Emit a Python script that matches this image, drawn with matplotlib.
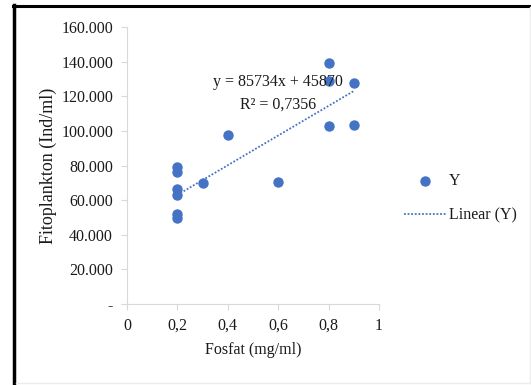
import numpy as np
import matplotlib.pyplot as plt
from matplotlib.lines import Line2D
from matplotlib.ticker import FuncFormatter

# data
fosfat = [0.2, 0.2, 0.2, 0.2, 0.2, 0.2, 0.3, 0.4, 0.6, 0.8, 0.8, 0.8, 0.9, 0.9]
fitoplankton = [79200, 76300, 66700, 62900, 51700, 49400, 70000, 97900,
                70400, 139200, 128700, 102900, 127700, 103300]
slope = 85734
intercept = 45870
r2_text = "0,7356"
xticks = [0, 0.2, 0.4, 0.6, 0.8, 1]
yticks = [0, 20000, 40000, 60000, 80000, 100000, 120000, 140000, 160000]

blue = "#4472C4"
axis_grey = "#d9d9d9"
text_col = "#1a1a1a"
plt.rcParams["font.family"] = ["Liberation Serif", "DejaVu Serif"]

fig = plt.figure(figsize=(5.31, 3.85), dpi=100)
W, H = 531, 385
ax = fig.add_axes([127 / W, 1 - 304 / H, (379 - 127) / W, (304 - 27) / H])

ax.scatter(fosfat, fitoplankton, s=42, color=blue, zorder=3, label="Y")
xl = np.array([min(fosfat), max(fosfat)])
ax.plot(xl, slope * xl + intercept, color=blue, ls=(0, (1, 1)), lw=1.3,
        label="Linear (Y)")

ax.set_xlim(0, 1)
ax.set_ylim(0, 160000)
ax.set_xticks(xticks)
ax.set_yticks(yticks)
ax.xaxis.set_major_formatter(FuncFormatter(
    lambda v, p: "0" if v == 0 else ("1" if v == 1 else f"{v:.1f}".replace(".", ","))))
ax.yaxis.set_major_formatter(FuncFormatter(
    lambda v, p: "-" if v == 0 else f"{int(v):,}".replace(",", ".")))
ax.tick_params(labelsize=11.5, colors=axis_grey, labelcolor=text_col,
               length=4, width=0.8, pad=6)
for s in ["top", "right"]:
    ax.spines[s].set_visible(False)
for s in ["left", "bottom"]:
    ax.spines[s].set_color(axis_grey)
ax.set_xlabel("Fosfat (mg/ml)", fontsize=11.5, color=text_col, labelpad=6)
ax.set_ylabel("Fitoplankton (Ind/ml)", fontsize=13, color=text_col, labelpad=3)

ax.text(0.60, 128500, f"y = {slope}x + {intercept}", fontsize=11.5,
        ha="center", va="center", color=text_col)
ax.text(0.60, 115000, f"R\u00b2 = {r2_text}", fontsize=11.5,
        ha="center", va="center", color=text_col)

leg = fig.legend(loc="center left", bbox_to_anchor=(390 / W, 1 - 198 / H),
                 frameon=False, fontsize=11.5, handlelength=2.6,
                 labelspacing=1.15, handletextpad=0.2)
for t in leg.get_texts():
    t.set_color(text_col)

# frame around the picture
fig.add_artist(Line2D([14 / W, 14 / W], [0, 1 - 5 / H], transform=fig.transFigure,
                      color="black", lw=2.5))
fig.add_artist(Line2D([13 / W, 1], [1 - 5.5 / H, 1 - 5.5 / H], transform=fig.transFigure,
                      color="black", lw=2.2))
fig.add_artist(Line2D([529.5 / W, 529.5 / W], [2 / H, 1 - 7 / H], transform=fig.transFigure,
                      color="#ececec", lw=1))
fig.add_artist(Line2D([16 / W, 1], [2.5 / H, 2.5 / H], transform=fig.transFigure,
                      color="#ececec", lw=1))

fig.savefig("out.png", dpi=100)
